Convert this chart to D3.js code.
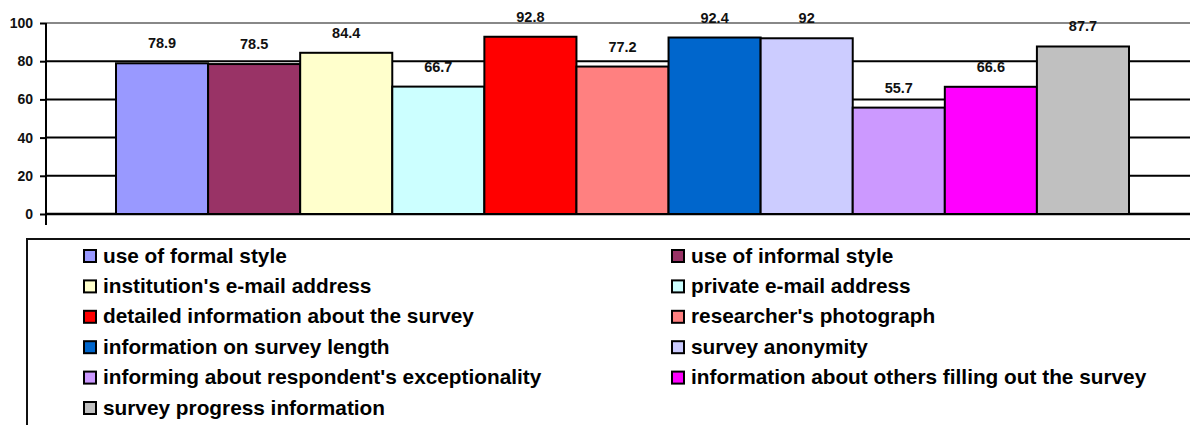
<!DOCTYPE html>
<html>
<head>
<meta charset="utf-8">
<script src="https://cdn.jsdelivr.net/npm/d3@7"></script>
<style>
  html, body { margin: 0; padding: 0; background: #fff; }
  svg { display: block; font-family: "Liberation Sans", Arial, sans-serif; font-weight: bold; }
</style>
</head>
<body>
<svg id="chart" width="1190" height="425"></svg>
<script>
// Survey invitation features and their percentages
const categories = [
  "use of formal style",
  "use of informal style",
  "institution's e-mail address",
  "private e-mail address",
  "detailed information about the survey",
  "researcher's photograph",
  "information on survey length",
  "survey anonymity",
  "informing about respondent's exceptionality",
  "information about others filling out the survey",
  "survey progress information"
];
const values = [78.9, 78.5, 84.4, 66.7, 92.8, 77.2, 92.4, 92, 55.7, 66.6, 87.7];
const colors = ["#9999FF", "#993366", "#FFFFCC", "#CCFFFF", "#FF0000", "#FF8080",
                "#0066CC", "#CCCCFF", "#CC99FF", "#FF00FF", "#C0C0C0"];
const yTicks = [0, 20, 40, 60, 80, 100];

const svg = d3.select("#chart");
const axisX = 46, rightEdge = 1190;

const y = d3.scaleLinear().domain([0, 100]).range([214, 23]);
const x = d3.scaleBand().domain(categories).range([116, 1129]).padding(0);

// horizontal gridlines (top one grey)
svg.append("g").selectAll("line").data(yTicks).join("line")
  .attr("x1", axisX).attr("x2", rightEdge)
  .attr("y1", d => y(d)).attr("y2", d => y(d))
  .attr("stroke", d => d === 100 ? "#888" : "#000")
  .attr("stroke-width", d => d === 0 ? 2.5 : 2);

// bars
svg.append("g").selectAll("rect").data(values).join("rect")
  .attr("x", (d, i) => x(categories[i]))
  .attr("y", d => y(d))
  .attr("width", x.bandwidth())
  .attr("height", d => y(0) - y(d))
  .attr("fill", (d, i) => colors[i])
  .attr("stroke", "#000")
  .attr("stroke-width", 2);

// value labels
svg.append("g").selectAll("text").data(values).join("text")
  .attr("x", (d, i) => x(categories[i]) + x.bandwidth() / 2)
  .attr("y", d => y(d) - 15)
  .attr("text-anchor", "middle")
  .attr("font-size", 14.5)
  .attr("fill", "#111")
  .text(d => String(d));

// y axis
const yAxis = d3.axisLeft(y).tickValues(yTicks).tickSize(6).tickPadding(7).tickFormat(d3.format("d"));
const ag = svg.append("g").attr("transform", `translate(${axisX},0)`).call(yAxis);
ag.select(".domain").remove();
ag.selectAll(".tick line").attr("stroke", "#000").attr("stroke-width", 2);
ag.selectAll(".tick text").attr("font-size", 14).attr("font-weight", "bold")
  .attr("font-family", "Liberation Sans, Arial, sans-serif").attr("fill", "#111");
ag.append("line").attr("x1", 0).attr("x2", 0).attr("y1", y(100)).attr("y2", 225)
  .attr("stroke", "#000").attr("stroke-width", 2);

// legend frame
svg.append("path")
  .attr("d", `M27,425 V239 H${rightEdge}`)
  .attr("fill", "none").attr("stroke", "#111").attr("stroke-width", 2);

// legend entries, two columns
const colX = [84, 672];
const rowY0 = 256, rowStep = 30.4;
const lg = svg.append("g").selectAll("g").data(categories).join("g")
  .attr("transform", (d, i) => `translate(${colX[i % 2]},${rowY0 + Math.floor(i / 2) * rowStep})`);
lg.append("rect")
  .attr("x", 0).attr("y", -6).attr("width", 12).attr("height", 12)
  .attr("fill", (d, i) => colors[i]).attr("stroke", "#000").attr("stroke-width", 2);
lg.append("text")
  .attr("x", 19).attr("y", 6.5)
  .attr("font-size", 20.8)
  .attr("fill", "#000")
  .text(d => d);
</script>
</body>
</html>
